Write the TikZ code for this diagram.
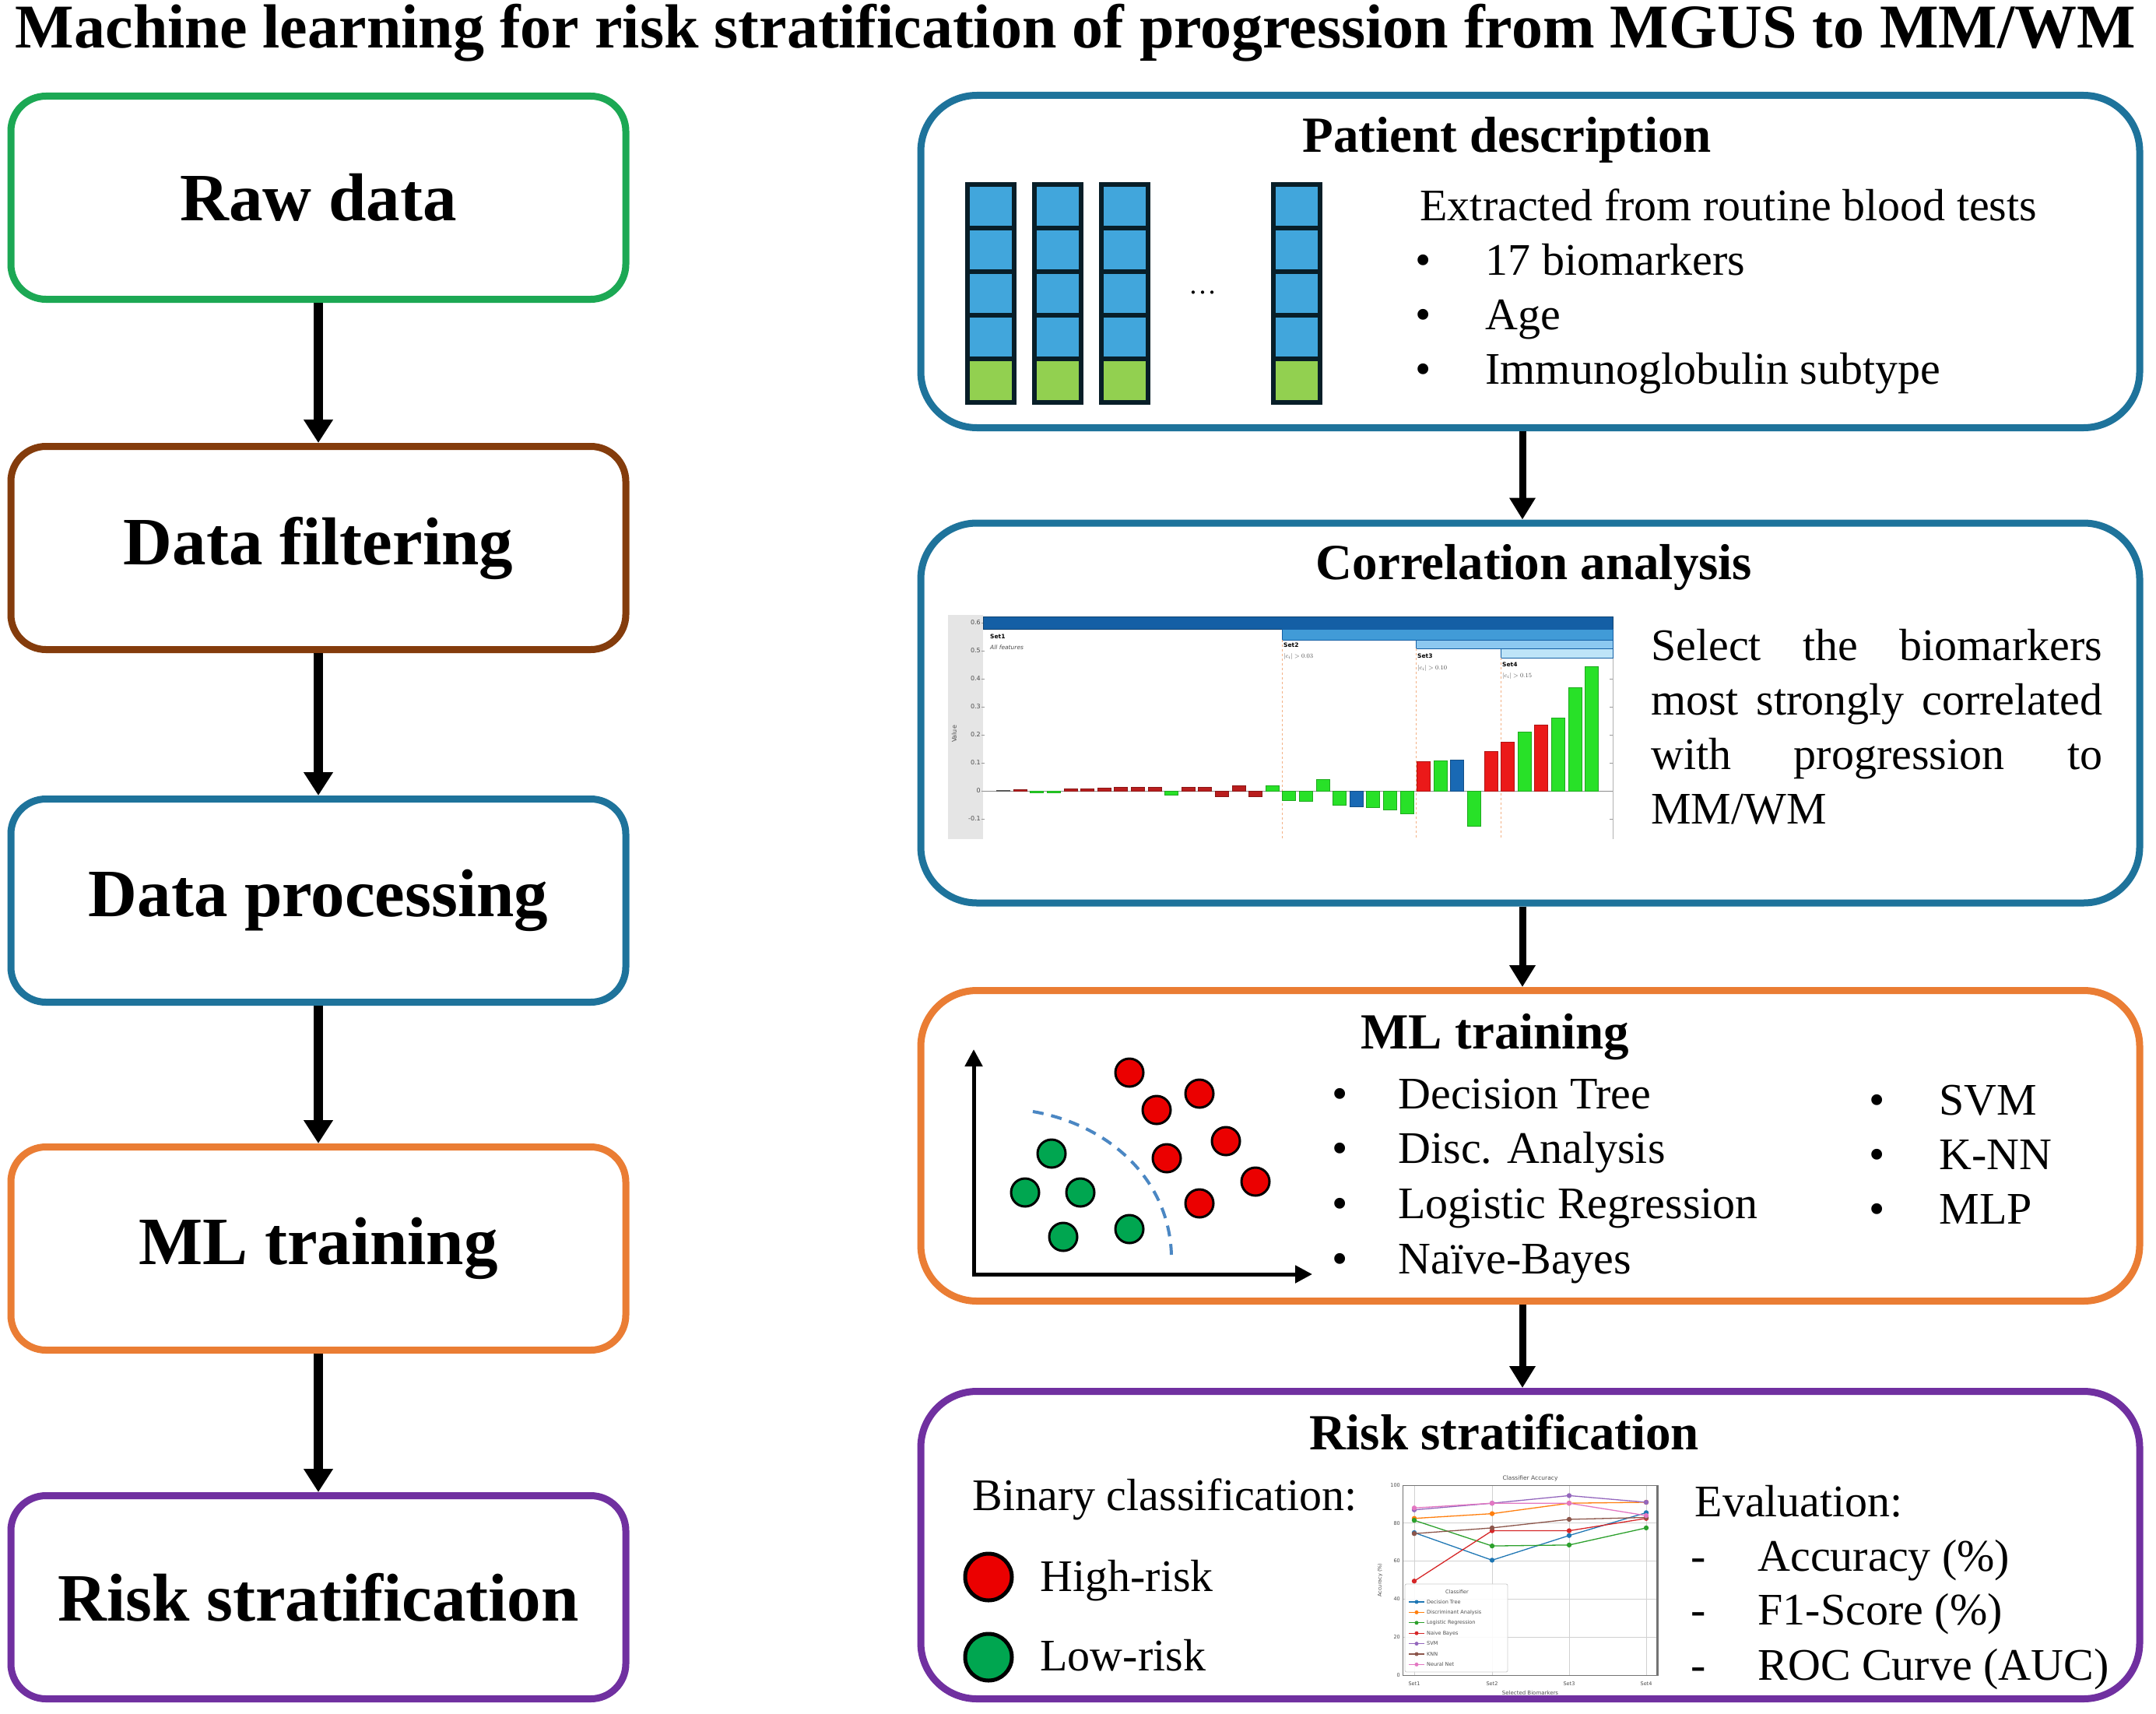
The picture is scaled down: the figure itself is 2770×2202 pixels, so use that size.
\documentclass[tikz,border=0pt]{standalone}
\usepackage{fontspec}
\setmainfont{Liberation Serif}
\newfontfamily\chartfont{DejaVu Sans}
\usetikzlibrary{arrows.meta}
\definecolor{cgreen}{RGB}{28,168,84}
\definecolor{cbrown}{RGB}{132,60,12}
\definecolor{cblue}{RGB}{30,115,155}
\definecolor{corange}{RGB}{234,125,52}
\definecolor{cpurple}{RGB}{112,48,160}
\definecolor{cellblue}{RGB}{65,166,220}
\definecolor{cellgreen}{RGB}{146,208,80}
\definecolor{celledge}{RGB}{8,30,40}
\definecolor{barred}{RGB}{235,25,25}
\definecolor{bardred}{RGB}{185,30,30}
\definecolor{bargreen}{RGB}{40,225,40}
\definecolor{barblue}{RGB}{25,105,180}
\definecolor{bargray}{RGB}{120,120,120}
\definecolor{dotred}{RGB}{235,0,0}
\definecolor{dotgreen}{RGB}{0,166,80}
\definecolor{sepblue}{RGB}{75,135,195}
\definecolor{setAc}{RGB}{20,95,165}
\definecolor{setBc}{RGB}{65,155,215}
\definecolor{setCc}{RGB}{140,200,240}
\definecolor{setDc}{RGB}{190,228,248}
\definecolor{mplblue}{RGB}{31,119,180}
\definecolor{mplorange}{RGB}{255,127,14}
\definecolor{mplgreen}{RGB}{44,160,44}
\definecolor{mplred}{RGB}{214,39,40}
\definecolor{mplpurple}{RGB}{148,103,189}
\definecolor{mplbrown}{RGB}{140,86,75}
\definecolor{mplpink}{RGB}{227,119,194}
\newcommand\mlseries[5]{%
  \draw[#1,line width=1.3pt] (1817,{2152-2.44*#2}) -- (1917,{2152-2.44*#3}) -- (2016,{2152-2.44*#4}) -- (2115,{2152-2.44*#5});
  \fill[#1] (1817,{2152-2.44*#2}) circle[radius=3.2pt] (1917,{2152-2.44*#3}) circle[radius=3.2pt] (2016,{2152-2.44*#4}) circle[radius=3.2pt] (2115,{2152-2.44*#5}) circle[radius=3.2pt];}
\begin{document}
\begin{tikzpicture}[x=1pt,y=-1pt,
  lbox/.style={draw, line width=9pt, rounded corners=45pt, minimum width=790pt, minimum height=261pt, inner sep=0pt, font=\fontsize{87}{100}\selectfont\bfseries},
  rbox/.style={draw, line width=9pt, rounded corners=72pt, minimum width=1566pt, inner sep=0pt},
  flow/.style={line width=12pt, -{Triangle[length=30pt,width=36pt]}},
  rflow/.style={line width=9pt, -{Triangle[length=28pt,width=32pt]}},
  rhead/.style={anchor=base, font=\fontsize{65}{78}\selectfont\bfseries},
  btext/.style={anchor=base west, font=\fontsize{58}{70}\selectfont},
  bul/.style={anchor=base, font=\fontsize{58}{70}\selectfont},
  pcell/.style={draw=celledge, line width=6pt},
  tick/.style={font=\chartfont\fontsize{8}{9}\selectfont, text=black!70, inner sep=1pt},
  cbar/.style={line width=0.6pt},
  dotr/.style={fill=dotred, draw=black, line width=3pt},
  dotg/.style={fill=dotgreen, draw=black, line width=3pt},
]
\useasboundingbox (0,0) rectangle (2770,2202);
\fill[white] (0,0) rectangle (2770,2202);

\node[anchor=base, font=\fontsize{80}{90}\selectfont\bfseries] (title) at (1382,62) {Machine learning for risk stratification of progression from MGUS to MM/WM};

% ---------------- left column
\node[lbox, draw=cgreen] (raw) at (409,254) {Raw data};
\node[lbox, draw=cbrown] (filt) at (409,704) {Data filtering};
\node[lbox, draw=cblue] (proc) at (409,1157) {Data processing};
\node[lbox, draw=corange] (mlt) at (409,1604) {ML training};
\node[lbox, draw=cpurple] (rsk) at (409,2052) {Risk stratification};
\draw[flow] (raw) -- (filt);
\draw[flow] (filt) -- (proc);
\draw[flow] (proc) -- (mlt);
\draw[flow] (mlt) -- (rsk);

% ---------------- right column boxes
\node[rbox, draw=cblue, minimum height=427pt] (pat) at (1966,336) {};
\node[rbox, draw=cblue, minimum height=488pt] (cor) at (1966,916) {};
\node[rbox, draw=corange, minimum height=399pt] (mlr) at (1966,1472) {};
\node[rbox, draw=cpurple, minimum height=395pt] (rsr) at (1966,1985) {};
\draw[rflow] ([xshift=-10pt]pat.south) -- ([xshift=-10pt]cor.north);
\draw[rflow] ([xshift=-10pt]cor.south) -- ([xshift=-10pt]mlr.north);
\draw[rflow] ([xshift=-10pt]mlr.south) -- ([xshift=-10pt]rsr.north);

% ---------------- patient description
\node[rhead] (pdh) at (1936,196) {Patient description};
\foreach \x in {1243,1329,1415,1636} {
  \foreach \i in {0,1,2,3} {\filldraw[pcell, fill=cellblue] (\x,237+56*\i) rectangle ++(60,56);}
  \filldraw[pcell, fill=cellgreen] (\x,461) rectangle ++(60,56);
}
\node[font=\fontsize{36}{40}\selectfont] (pdots) at (1545,376) {\ldots};
\node[btext] (pext) at (1821,283) {Extracted from routine blood tests};
\node[bul] at (1829,353) {•}; \node[btext] (pb1) at (1905,353) {17 biomarkers};
\node[bul] at (1829,423) {•}; \node[btext] (pb2) at (1905,423) {Age};
\node[bul] at (1829,493) {•}; \node[btext] (pb3) at (1905,493) {Immunoglobulin subtype};

% ---------------- correlation analysis
\node[rhead] (coh) at (1971,744) {Correlation analysis};
\fill[black!10] (1218,790) rectangle (1263,1078);
\draw[black!30, line width=0.8pt] (2072,792) -- (2072,1078);
\foreach \v/\t in {0.6/0.6,0.5/0.5,0.4/0.4,0.3/0.3,0.2/0.2,0.1/0.1,0/0,-0.1/-0.1} {
  \node[tick, anchor=east] at (1261,{1016-360*\v}) {\t};
  \draw[black!40, line width=0.8pt] (1261,{1016-360*\v}) -- (1265,{1016-360*\v});
  \draw[black!40, line width=0.8pt] (2068,{1016-360*\v}) -- (2072,{1016-360*\v});
}
\node[tick, rotate=90] (vlab) at (1226,943) {Value};
\filldraw[fill=setAc, draw=setAc!70!black, line width=0.6pt] (1263,792) rectangle (2072,808);
\filldraw[fill=setBc, draw=setAc, line width=0.6pt] (1647,808) rectangle (2072,822);
\filldraw[fill=setCc, draw=setAc, line width=0.6pt] (1819,822) rectangle (2072,833);
\filldraw[fill=setDc, draw=setAc, line width=0.6pt] (1928,833) rectangle (2072,845);
\foreach \x/\y in {1647/822,1819/833,1928/845} {\draw[corange!60, dashed, line width=0.7pt] (\x,\y) -- (\x,1078);}
\node[anchor=west, font=\chartfont\bfseries\fontsize{7.5}{8}\selectfont, inner sep=0pt] at (1272,818) {Set1};
\node[anchor=west, font=\chartfont\itshape\fontsize{7.5}{8}\selectfont, inner sep=0pt, text=black!70] at (1272,832) {All features};
\node[anchor=west, font=\chartfont\bfseries\fontsize{7.5}{8}\selectfont, inner sep=0pt] at (1649,829) {Set2};
\node[anchor=west, font=\fontsize{8}{9}\selectfont, inner sep=0pt, text=black!70] at (1649,843) {$|c_i|>0.03$};
\node[anchor=west, font=\chartfont\bfseries\fontsize{7.5}{8}\selectfont, inner sep=0pt] at (1821,843) {Set3};
\node[anchor=west, font=\fontsize{8}{9}\selectfont, inner sep=0pt, text=black!70] at (1821,858) {$|c_i|>0.10$};
\node[anchor=west, font=\chartfont\bfseries\fontsize{7.5}{8}\selectfont, inner sep=0pt] at (1930,854) {Set4};
\node[anchor=west, font=\fontsize{8}{9}\selectfont, inner sep=0pt, text=black!70] at (1930,868) {$|c_i|>0.15$};
\draw[black!45, line width=1pt] (1263,1016) -- (2072,1016);
\foreach \i/\v/\c in {1/0.002/bargray,2/0.006/bardred,3/-0.007/bargreen,4/-0.007/bargreen,5/0.008/bardred,6/0.008/bardred,7/0.01/bardred,8/0.014/bardred,9/0.014/bardred,10/0.014/bardred,11/-0.014/bargreen,12/0.014/bardred,13/0.014/bardred,14/-0.02/bardred,15/0.02/bardred,16/-0.02/bardred,17/0.02/bargreen,18/-0.033/bargreen,19/-0.038/bargreen,20/0.04/bargreen,21/-0.05/bargreen,22/-0.055/barblue,23/-0.058/bargreen,24/-0.068/bargreen,25/-0.08/bargreen,26/0.105/barred,27/0.108/bargreen,28/0.11/barblue,29/-0.125/bargreen,30/0.14/barred,31/0.175/barred,32/0.21/bargreen,33/0.235/barred,34/0.26/bargreen,35/0.37/bargreen,36/0.445/bargreen} {
  \filldraw[cbar, fill=\c, draw=\c!75!black] ({1289+(\i-1)*21.6-8.5},1016) rectangle ++(17,{-360*\v});
}
\node[btext, inner sep=0pt] (cs1) at (2121,848) {\makebox[580pt][s]{Select the biomarkers}};
\node[btext, inner sep=0pt] (cs2) at (2121,918) {\makebox[580pt][s]{most strongly correlated}};
\node[btext, inner sep=0pt] (cs3) at (2121,988) {\makebox[580pt][s]{with progression to}};
\node[btext, inner sep=0pt] (cs4) at (2121,1058) {MM/WM};

% ---------------- ML training
\node[rhead] (mlh) at (1921,1347) {ML training};
\coordinate (orig) at (1251,1637);
\coordinate (yend) at (1251,1348);
\coordinate (xend) at (1686,1637);
\draw[line width=5pt, -{Triangle[length=22pt,width=22pt]}] ([yshift=2.5pt]orig) -- (yend);
\draw[line width=5pt, -{Triangle[length=22pt,width=22pt]}] ([xshift=-2.5pt]orig) -- (xend);
\draw[sepblue, line width=4pt, dash pattern=on 14pt off 10pt] (1327,1428) .. controls (1425,1445) and (1502,1515) .. (1505,1612);
\foreach \p in {(1451,1378),(1541,1405),(1486,1426),(1575,1466),(1499,1488),(1613,1518),(1541,1546)} {\filldraw[dotr] \p circle[radius=18pt];}
\foreach \p in {(1351,1482),(1317,1532),(1388,1532),(1366,1589),(1451,1579)} {\filldraw[dotg] \p circle[radius=18pt];}
\node[bul] at (1722,1424) {•}; \node[btext] (m1) at (1793,1424) {Decision Tree};
\node[bul] at (1722,1494) {•}; \node[btext] (m2) at (1793,1494) {Disc. Analysis};
\node[bul] at (1722,1565) {•}; \node[btext] (m3) at (1793,1565) {Logistic Regression};
\node[bul] at (1722,1636) {•}; \node[btext] (m4) at (1793,1636) {Naïve-Bayes};
\node[bul] at (2412,1432) {•}; \node[btext] (m5) at (2488,1432) {SVM};
\node[bul] at (2412,1502) {•}; \node[btext] (m6) at (2488,1502) {K-NN};
\node[bul] at (2412,1572) {•}; \node[btext] (m7) at (2488,1572) {MLP};

% ---------------- risk stratification
\node[rhead] (rsh) at (1933,1862) {Risk stratification};
\node[btext] (bin) at (1246,1940) {Binary classification:};
\filldraw[fill=dotred, draw=black, line width=5pt] (1270,2026) circle[radius=30pt];
\filldraw[fill=dotgreen, draw=black, line width=5pt] (1270,2129) circle[radius=30pt];
\node[btext] (hr) at (1333,2044) {High-risk};
\node[btext] (lr) at (1333,2146) {Low-risk};
\node[btext] (ev) at (2174,1948) {Evaluation:};
\node[bul] at (2182,2018) {-}; \node[btext] (e1) at (2255,2018) {Accuracy (\%)};
\node[bul] at (2182,2087) {-}; \node[btext] (e2) at (2255,2087) {F1-Score (\%)};
\node[bul] at (2182,2158) {-}; \node[btext] (e3) at (2255,2158) {ROC Curve (AUC)};

% line chart
\foreach \v in {20,40,60,80,100} {\draw[black!18, line width=0.8pt] (1802,{2152-2.44*\v}) -- (2130,{2152-2.44*\v});}
\foreach \x in {1817,1917,2016,2115} {\draw[black!18, line width=0.8pt] (\x,1908) -- (\x,2152);}
\draw[black!55, line width=1pt] (1802,1908) rectangle (2130,2152);
\draw[black!55, line width=3pt] (2129,1908) -- (2129,2152);
\foreach \v in {0,20,40,60,80,100} {\node[tick, anchor=east, font=\chartfont\fontsize{6.5}{7}\selectfont] at (1800,{2152-2.44*\v}) {\v};}
\foreach \x/\t in {1817/Set1,1917/Set2,2016/Set3,2115/Set4} {\node[tick, font=\chartfont\fontsize{6.5}{7}\selectfont] at (\x,2163) {\t};}
\node[tick, font=\chartfont\fontsize{7}{8}\selectfont] (lcx) at (1966,2175) {Selected Biomarkers};
\node[tick, font=\chartfont\fontsize{7.5}{8}\selectfont] (lct) at (1966,1899) {Classifier Accuracy};
\node[tick, rotate=90, font=\chartfont\fontsize{6.5}{7}\selectfont] (lcy) at (1773,2030) {Accuracy (\%)};
\mlseries{mplblue}{75}{60.5}{73.5}{85.5}
\mlseries{mplorange}{82.5}{85}{90.5}{91}
\mlseries{mplgreen}{81.5}{68}{68.5}{77.5}
\mlseries{mplred}{49.5}{76}{76}{82.5}
\mlseries{mplpurple}{87}{90.5}{94.5}{91}
\mlseries{mplbrown}{74.5}{77.5}{82}{83}
\mlseries{mplpink}{88}{90.5}{90.5}{84}
\filldraw[fill=white, fill opacity=0.9, draw=black!20, line width=0.8pt, rounded corners=2pt] (1805,2035) rectangle (1937,2148);
\node[tick, font=\chartfont\fontsize{6.5}{7}\selectfont] at (1872,2045) {Classifier};
\foreach \c/\t [count=\k] in {mplblue/Decision Tree,mplorange/Discriminant Analysis,mplgreen/Logistic Regression,mplred/Naive Bayes,mplpurple/SVM,mplbrown/KNN,mplpink/Neural Net} {
  \draw[\c, line width=1.2pt] (1810,{2058+13.4*(\k-1)}) -- (1830,{2058+13.4*(\k-1)});
  \fill[\c] (1820,{2058+13.4*(\k-1)}) circle[radius=2.5pt];
  \node[tick, anchor=west, font=\chartfont\fontsize{6.5}{7}\selectfont] at (1832,{2058+13.4*(\k-1)}) {\t};
}
\end{tikzpicture}
\end{document}
